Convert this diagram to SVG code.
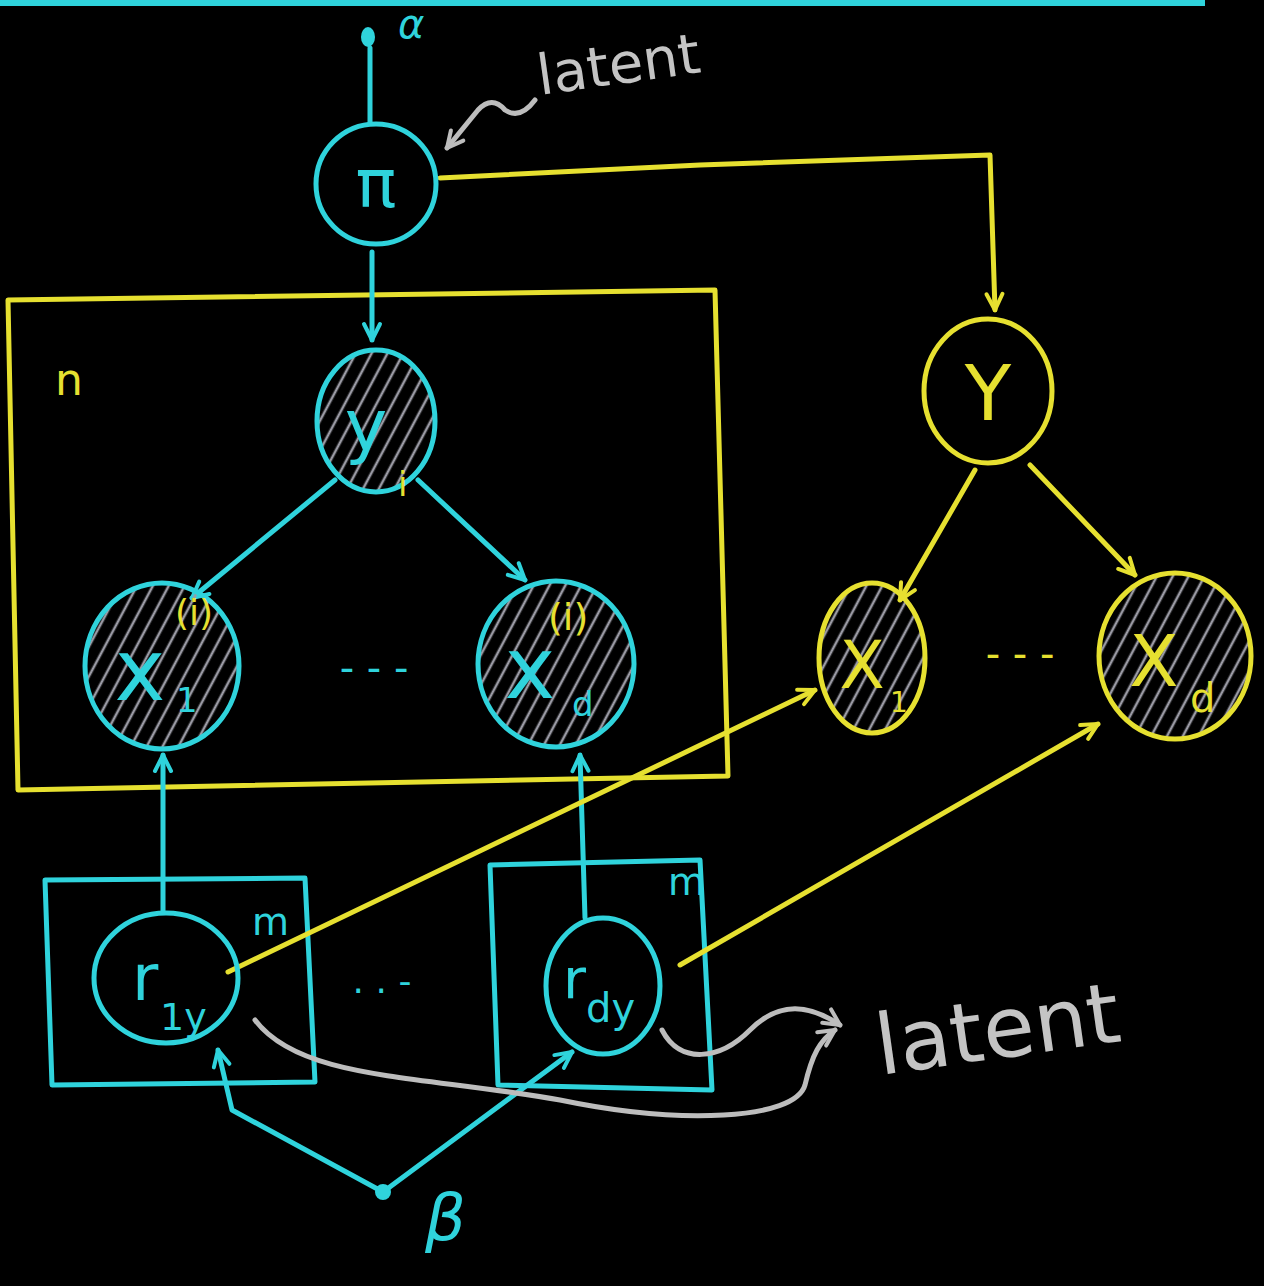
<svg xmlns="http://www.w3.org/2000/svg" width="1264" height="1286" viewBox="0 0 1264 1286">
<defs>
<pattern id="hatch" width="14" height="14" patternUnits="userSpaceOnUse" patternTransform="rotate(28)">
<line x1="4" y1="0" x2="4" y2="14" stroke="#9a9aa4" stroke-width="2.6"/>
</pattern>
<marker id="ac" viewBox="0 0 24 24" refX="20" refY="12" markerWidth="24" markerHeight="24" orient="auto" markerUnits="userSpaceOnUse">
<path d="M4,4 L20,12 L4,20" fill="none" stroke="#2fd3dc" stroke-width="4" stroke-linecap="round" stroke-linejoin="round"/>
</marker>
<marker id="ay" viewBox="0 0 24 24" refX="20" refY="12" markerWidth="24" markerHeight="24" orient="auto" markerUnits="userSpaceOnUse">
<path d="M4,4 L20,12 L4,20" fill="none" stroke="#e6e030" stroke-width="4" stroke-linecap="round" stroke-linejoin="round"/>
</marker>
<marker id="ag" viewBox="0 0 24 24" refX="20" refY="12" markerWidth="24" markerHeight="24" orient="auto" markerUnits="userSpaceOnUse">
<path d="M4,4 L20,12 L4,20" fill="none" stroke="#bdbdbd" stroke-width="4" stroke-linecap="round" stroke-linejoin="round"/>
</marker>
<style>
.c{stroke:#2fd3dc;stroke-width:5;fill:none;stroke-linecap:round;stroke-linejoin:round}
.y{stroke:#e6e030;stroke-width:5;fill:none;stroke-linecap:round;stroke-linejoin:round}
.g{stroke:#bdbdbd;stroke-width:5;fill:none;stroke-linecap:round;stroke-linejoin:round}
.h{fill:url(#hatch)}
.tc{fill:#2fd3dc;font-family:"DejaVu Sans",sans-serif}
.ty{fill:#e6e030;font-family:"DejaVu Sans",sans-serif}
.tg{fill:#c4c4c4;font-family:"DejaVu Sans",sans-serif}
</style>
</defs>
<rect width="1264" height="1286" fill="#000"/>
<line x1="0" y1="3" x2="1205" y2="3" stroke="#2fd3dc" stroke-width="6"/>

<g id="plates">
<path class="y" d="M8,300 L715,290 L728,776 L18,790 Z"/>
<text class="ty" x="55" y="395" font-size="44">n</text>
<path class="c" d="M45,880 L305,878 L315,1082 L52,1085 Z"/>
<text class="tc" x="252" y="935" font-size="38">m</text>
<path class="c" d="M490,865 L700,860 L712,1090 L498,1085 Z"/>
<text class="tc" x="668" y="895" font-size="38">m</text>
</g>

<g id="connectors">
<line class="c" x1="370" y1="48" x2="370" y2="122"/>
<line class="c" x1="372" y1="252" x2="372" y2="340" marker-end="url(#ac)"/>
<path class="y" d="M440,178 L700,165 L990,155 L995,310" marker-end="url(#ay)"/>
<line class="c" x1="335" y1="480" x2="192" y2="598" marker-end="url(#ac)"/>
<line class="c" x1="418" y1="480" x2="525" y2="580" marker-end="url(#ac)"/>
<line class="c" x1="163" y1="912" x2="163" y2="755" marker-end="url(#ac)"/>
<line class="c" x1="585" y1="918" x2="580" y2="755" marker-end="url(#ac)"/>
<line class="y" x1="975" y1="470" x2="900" y2="600" marker-end="url(#ay)"/>
<line class="y" x1="1030" y1="465" x2="1135" y2="575" marker-end="url(#ay)"/>
<line class="y" x1="228" y1="972" x2="815" y2="690" marker-end="url(#ay)"/>
<line class="y" x1="680" y1="965" x2="1098" y2="724" marker-end="url(#ay)"/>
<path class="c" d="M383,1192 L232,1110 L218,1050" marker-end="url(#ac)"/>
<line class="c" x1="383" y1="1192" x2="572" y2="1052" marker-end="url(#ac)"/>
<path class="g" d="M255,1020 C300,1080 420,1075 560,1100 C680,1125 795,1120 805,1085 C812,1055 820,1040 835,1030" marker-end="url(#ag)"/>
<path class="g" d="M662,1030 C680,1065 720,1060 750,1030 C780,1000 810,1005 840,1025" marker-end="url(#ag)"/>
<path class="g" d="M535,100 Q520,120 505,110 Q492,95 478,110 L447,148" marker-end="url(#ag)"/>
</g>

<g id="alpha">
<ellipse cx="368" cy="37" rx="7" ry="10" fill="#2fd3dc"/>
<text class="tc" x="398" y="38" font-size="40" font-style="italic">α</text>
</g>

<g id="latent-top">
<text class="tg" x="540" y="95" font-size="56" transform="rotate(-8 540 95)">latent</text>
</g>

<g id="pi">
<ellipse class="c" cx="376" cy="184" rx="60" ry="60"/>
<text class="tc" x="376" y="207" font-size="68" text-anchor="middle">π</text>
</g>

<g id="y_i">
<ellipse class="h" cx="376" cy="421" rx="59" ry="71"/>
<ellipse class="c" cx="376" cy="421" rx="59" ry="71"/>
<text class="tc" x="366" y="450" font-size="72" text-anchor="middle">y</text>
<text class="ty" x="398" y="496" font-size="34">i</text>
</g>

<g id="x1">
<ellipse class="h" cx="162" cy="666" rx="77" ry="83"/>
<ellipse class="c" cx="162" cy="666" rx="77" ry="83"/>
<text class="tc" x="140" y="700" font-size="86" text-anchor="middle">x</text>
<text class="ty" x="175" y="625" font-size="36">(i)</text>
<text class="tc" x="176" y="712" font-size="34">1</text>
</g>

<g id="dots1">
<text class="tc" x="374" y="682" font-size="40" text-anchor="middle">- - -</text>
</g>

<g id="xd">
<ellipse class="h" cx="556" cy="664" rx="78" ry="83"/>
<ellipse class="c" cx="556" cy="664" rx="78" ry="83"/>
<text class="tc" x="530" y="698" font-size="86" text-anchor="middle">x</text>
<text class="ty" x="548" y="630" font-size="38">(i)</text>
<text class="tc" x="572" y="716" font-size="34">d</text>
</g>

<g id="Y">
<ellipse class="y" cx="988" cy="391" rx="64" ry="72"/>
<text class="ty" x="988" y="420" font-size="76" text-anchor="middle">Y</text>
</g>

<g id="X1">
<ellipse class="h" cx="872" cy="658" rx="53" ry="75"/>
<ellipse class="y" cx="872" cy="658" rx="53" ry="75"/>
<text class="ty" x="862" y="688" font-size="66" text-anchor="middle">X</text>
<text class="ty" x="890" y="712" font-size="28">1</text>
</g>

<g id="dots2">
<text class="ty" x="1020" y="668" font-size="40" text-anchor="middle">- - -</text>
</g>

<g id="Xd">
<ellipse class="h" cx="1175" cy="656" rx="76" ry="83"/>
<ellipse class="y" cx="1175" cy="656" rx="76" ry="83"/>
<text class="ty" x="1154" y="686" font-size="72" text-anchor="middle">X</text>
<text class="ty" x="1190" y="712" font-size="40">d</text>
</g>

<g id="r1y">
<ellipse class="c" cx="166" cy="978" rx="72" ry="65"/>
<text class="tc" x="132" y="1000" font-size="64">r</text>
<text class="tc" x="160" y="1030" font-size="38">1y</text>
</g>

<g id="dots3">
<text class="tc" x="382" y="993" font-size="36" text-anchor="middle">. . -</text>
</g>

<g id="rdy">
<ellipse class="c" cx="603" cy="986" rx="57" ry="68"/>
<text class="tc" x="563" y="998" font-size="56">r</text>
<text class="tc" x="586" y="1022" font-size="40">dy</text>
</g>

<g id="beta">
<circle cx="383" cy="1192" r="8" fill="#2fd3dc"/>
<text class="tc" x="425" y="1240" font-size="64" font-style="italic">β</text>
</g>

<g id="latent-bottom">
<text class="tg" x="880" y="1075" font-size="84" transform="rotate(-8 880 1075)">latent</text>
</g>
</svg>
